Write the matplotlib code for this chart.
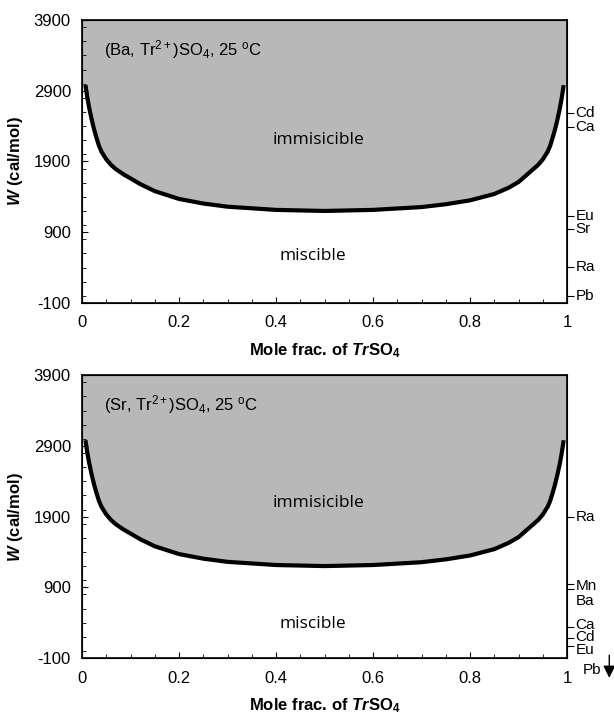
import matplotlib
matplotlib.use('Agg')
import matplotlib.pyplot as plt
import numpy as np
from matplotlib.ticker import MultipleLocator

plt.rcParams['font.family'] = ['Liberation Sans', 'DejaVu Sans']
plt.rcParams['axes.unicode_minus'] = False
plt.rcParams['mathtext.fontset'] = 'custom'
plt.rcParams['mathtext.rm'] = 'Liberation Sans'
plt.rcParams['mathtext.it'] = 'Liberation Sans:italic'
plt.rcParams['mathtext.bf'] = 'Liberation Sans:bold'
plt.rcParams['mathtext.bfit'] = 'Liberation Sans:bold:italic'

# solvus curve (critical W vs mole fraction)
x_frac = [0.007, 0.011, 0.015, 0.02, 0.025, 0.03, 0.035, 0.04, 0.05, 0.06, 0.07, 0.085,
          0.1, 0.12, 0.15, 0.2, 0.25, 0.3, 0.4, 0.5,
          0.6, 0.7, 0.75, 0.8, 0.85, 0.88, 0.9, 0.915, 0.93, 0.94, 0.95, 0.96,
          0.965, 0.97, 0.975, 0.98, 0.985, 0.989, 0.993]
w_crit = [2980, 2800, 2650, 2490, 2350, 2230, 2120, 2040, 1930, 1850, 1790, 1720,
          1660, 1580, 1480, 1370, 1305, 1260, 1215, 1200,
          1215, 1255, 1295, 1350, 1440, 1530, 1610, 1700, 1790, 1850, 1930, 2040,
          2120, 2230, 2350, 2490, 2650, 2800, 2980]

# trace elements on the right axis (W in cal/mol)
ba_names = ['Cd', 'Ca', 'Eu', 'Sr', 'Ra', 'Pb']
ba_w = [2590, 2390, 1130, 950, 410, 0]
sr_names = ['Ra', 'Mn', 'Ba', 'Ca', 'Cd', 'Eu']
sr_w = [1890, 950, 880, 340, 185, 70]
sr_label_w = [1890, 920, 710, 370, 190, 10]

panels = [
    (r'(Ba, Tr$^{2+}$)SO$_4$, 25 $^{\rm o}$C', ba_names, ba_w, ba_w, 2205, 565),
    (r'(Sr, Tr$^{2+}$)SO$_4$, 25 $^{\rm o}$C', sr_names, sr_w, sr_label_w, 2090, 385),
]

fig = plt.figure(figsize=(6.14, 7.16), dpi=100)
ax_top = fig.add_axes([0.1336, 0.577, 0.79, 0.395])
ax_bot = fig.add_axes([0.1336, 0.081, 0.79, 0.395])

gray = '#b8b8b8'
xf = [0] + x_frac + [1]
wf = [w_crit[0]] + w_crit + [w_crit[-1]]

for ax, (title, names, wvals, wlab, y_imm, y_mis) in zip([ax_top, ax_bot], panels):
    ax.fill_between(xf, wf, 3900, color=gray, lw=0)
    ax.plot(x_frac, w_crit, color='black', lw=3, solid_capstyle='butt')
    ax.set_xlim(0, 1)
    ax.set_ylim(-100, 3900)
    ax.xaxis.set_minor_locator(MultipleLocator(0.05))
    ax.yaxis.set_minor_locator(MultipleLocator(200))
    ax.set_yticks([-100, 900, 1900, 2900, 3900])
    ax.set_xticks([0, 0.2, 0.4, 0.6, 0.8, 1.0], ['0', '0.2', '0.4', '0.6', '0.8', '1'])
    ax.tick_params(which='both', direction='in', labelsize=12, top=False, right=False)
    ax.tick_params(which='major', length=4, width=0.8)
    ax.tick_params(which='minor', length=3, width=0.6)
    ax.tick_params(axis='x', pad=9)
    ax.tick_params(axis='y', pad=8)
    for s in ax.spines.values():
        s.set_linewidth(1.2)
    ax.set_xlabel(r'Mole frac. of $\mathbfit{Tr}\mathbf{SO}_{\mathbf{4}}$',
                  fontsize=12, fontweight='bold', labelpad=8)
    ax.set_ylabel(r'$\mathbfit{W}$ (cal/mol)', fontsize=12, fontweight='bold', labelpad=6)
    ax.text(0.045, 3480, title, fontsize=12, va='center', ha='left')
    ax.text(0.487, y_imm, 'immisicible', fontsize=12.5, ha='center', va='center',
            family='Open Sans')
    ax.text(0.476, y_mis, 'miscible', fontsize=12.5, ha='center', va='center',
            family='Open Sans')

    ax2 = ax.twinx()
    ax2.set_ylim(-100, 3900)
    ax2.set_yticks(wvals, [''] * len(wvals))
    ax2.tick_params(axis='y', direction='out', length=5, width=0.8)
    ax2.yaxis.set_minor_locator(plt.NullLocator())
    tr = ax.get_yaxis_transform()
    for name, wl in zip(names, wlab):
        ax.text(1.017, wl, name, transform=tr, fontsize=11, va='center', ha='left',
                clip_on=False)

# Pb is off-scale (below the axis) in the Sr panel
tr = ax_bot.get_yaxis_transform()
ax_bot.text(1.033, -270, 'Pb', transform=tr, fontsize=11, va='center', ha='left',
            clip_on=False)
ax_bot.annotate('', xy=(1.087, -420), xytext=(1.087, -20), xycoords=tr, textcoords=tr,
                arrowprops=dict(arrowstyle='-|>', color='black', lw=1, mutation_scale=18),
                annotation_clip=False)

fig.savefig('out.png', dpi=100)
